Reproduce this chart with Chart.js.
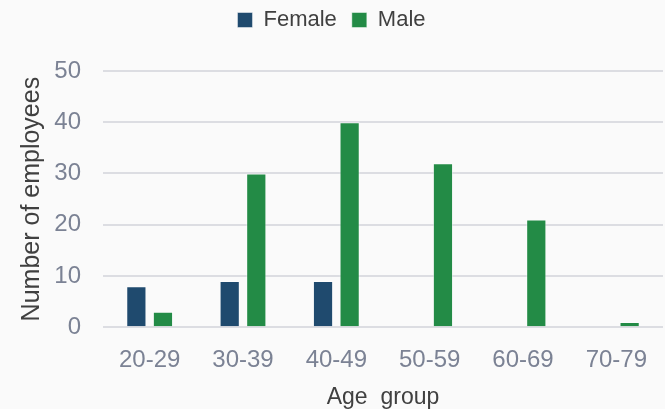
<!DOCTYPE html>
<html>
<head>
<meta charset="utf-8">
<script src="https://cdn.jsdelivr.net/npm/chart.js@4.4.0/dist/chart.umd.min.js"></script>
<style>
  html, body { margin: 0; padding: 0; background: #fafafa; }
  #wrap { width: 665px; height: 409px; position: relative; }
</style>
</head>
<body>
<div id="wrap"><canvas id="chart"></canvas></div>
<script>
// Employees by age group
const ageGroups = ['20-29', '30-39', '40-49', '50-59', '60-69', '70-79'];
const femaleCounts = [8, 9, 9, 0, 0, 0];
const maleCounts = [3, 30, 40, 32, 21, 1];
const yTicks = [0, 10, 20, 30, 40, 50];

const tickColor = '#7b8294';
const titleColor = '#404040';
const font = 'Liberation Sans, Arial, sans-serif';

// extra space between legend and plot
const legendGap = {
    id: 'legendGap',
    beforeInit(chart) {
        const fit = chart.legend.fit;
        chart.legend.fit = function () {
            fit.bind(chart.legend)();
            this.height += 30;
        };
    }
};

new Chart(document.getElementById('chart'), {
    type: 'bar',
    data: {
        labels: ageGroups,
        datasets: [
            {
                label: 'Female',
                data: femaleCounts,
                backgroundColor: '#1f4a6e',
                borderColor: 'rgba(255,255,255,0.45)',
                borderWidth: 1
            },
            {
                label: 'Male',
                data: maleCounts,
                backgroundColor: '#238b46',
                borderColor: 'rgba(255,255,255,0.45)',
                borderWidth: 1
            }
        ]
    },
    options: {
        responsive: true,
        maintainAspectRatio: false,
        animation: false,
        categoryPercentage: 0.57,
        barPercentage: 0.76,
        layout: { padding: { top: -6, right: 2, left: 0, bottom: 0 } },
        plugins: {
            legend: {
                position: 'top',
                labels: {
                    color: '#404040',
                    boxWidth: 15,
                    boxHeight: 15,
                    padding: 15,
                    font: { family: font, size: 22 }
                }
            },
            tooltip: { enabled: false }
        },
        scales: {
            x: {
                grid: { display: false },
                border: { display: false },
                ticks: { color: tickColor, padding: 11, font: { family: font, size: 24 } },
                title: { display: true, text: 'Age  group', color: titleColor, padding: { top: 0, bottom: 0 }, font: { family: font, size: 23, lineHeight: 1.0 } }
            },
            y: {
                min: 0,
                max: 50,
                afterBuildTicks: axis => { axis.ticks = yTicks.map(v => ({ value: v })); },
                afterFit: axis => { axis.width = 103; },
                grid: { color: '#dcdde2', lineWidth: 2, drawTicks: false },
                border: { display: false },
                ticks: { color: tickColor, padding: 22, font: { family: font, size: 24 } },
                title: { display: true, text: 'Number of employees', color: titleColor, padding: { top: 17, bottom: 0 }, font: { family: font, size: 25 } }
            }
        }
    },
    plugins: [legendGap]
});
</script>
</body>
</html>
